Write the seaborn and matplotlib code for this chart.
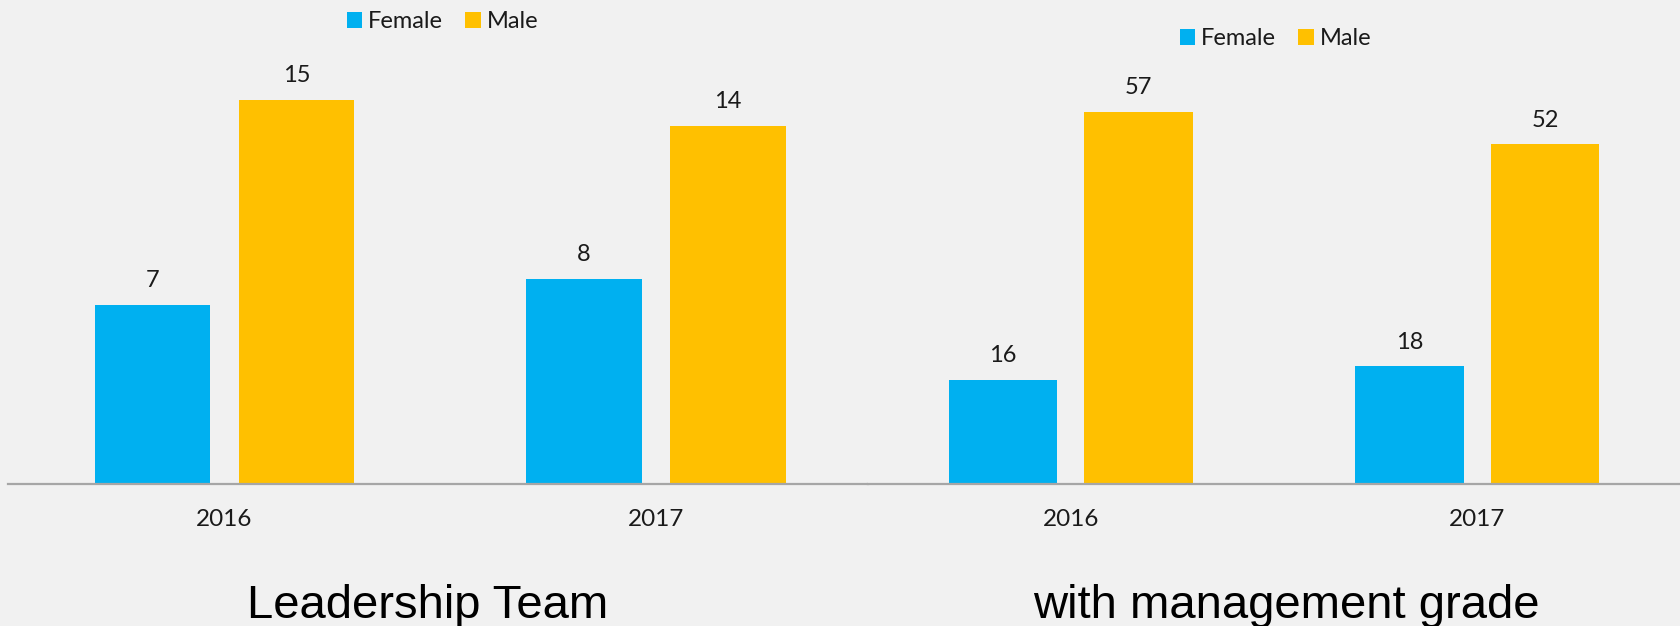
import matplotlib
matplotlib.use("Agg")
import matplotlib.pyplot as plt
import seaborn as sns
import pandas as pd
from matplotlib.patches import Patch

# Data
years = ["2016", "2017"]
genders = ["Female", "Male"]
leadership_female = [7, 8]
leadership_male = [15, 14]
management_female = [16, 18]
management_male = [57, 52]
panel_titles = ["Leadership Team", "with management grade"]

colors = {"Female": "#00B0F0", "Male": "#FFC000"}
bg = "#F1F1F1"

sns.set_theme(style="white")
plt.rcParams["font.family"] = ["Lato", "DejaVu Sans"]

W, H = 1680, 626
fig = plt.figure(figsize=(W / 100, H / 100), dpi=100, facecolor=bg)


def frame(female, male):
    return pd.DataFrame({
        "year": years * 2,
        "gender": ["Female"] * len(years) + ["Male"] * len(years),
        "count": list(female) + list(male),
    })


def px_axes(x0, x1, y_top, y_base):
    return fig.add_axes([x0 / W, 1 - y_base / H, (x1 - x0) / W, (y_base - y_top) / H])


panels = [
    dict(df=frame(leadership_female, leadership_male), x0=8, x1=868,
         xlim=(-0.501, 1.491), ylim=(0, 484 / 25.6),
         legend_xy=(347, 22), title_x=428),
    dict(df=frame(management_female, management_male), x0=868, x1=1680,
         xlim=(-0.499, 1.499), ylim=(0, 484 / 6.53),
         legend_xy=(1180, 38.5), title_x=1286),
]

for p, title in zip(panels, panel_titles):
    ax = px_axes(p["x0"], p["x1"], 0, 484)
    ax.set_facecolor(bg)
    sns.barplot(data=p["df"], x="year", y="count", hue="gender",
                hue_order=genders, palette=colors, width=0.668, gap=0.2,
                saturation=1, linewidth=0, ax=ax, legend=False)
    ax.set_xlim(*p["xlim"])
    ax.set_ylim(*p["ylim"])
    for c in ax.containers:
        ax.bar_label(c, padding=10, fontsize=17, color="#1a1a1a")
    for s in ["top", "right", "left"]:
        ax.spines[s].set_visible(False)
    ax.spines["bottom"].set_color("#A6A6A6")
    ax.spines["bottom"].set_linewidth(1.6)
    ax.set_yticks([])
    ax.set_xlabel("")
    ax.set_ylabel("")
    ax.tick_params(axis="x", length=0, pad=18, labelsize=17.5, labelcolor="#1a1a1a")

    handles = [Patch(facecolor=colors[g], edgecolor="none", label=g) for g in genders]
    lx, ly = p["legend_xy"]
    fig.legend(handles=handles, loc="center left", ncol=2, frameon=False,
               bbox_to_anchor=(lx / W, 1 - ly / H), bbox_transform=fig.transFigure,
               fontsize=17, handlelength=0.64, handleheight=0.64,
               handletextpad=0.25, columnspacing=0.95, borderpad=0, borderaxespad=0,
               labelcolor="#1a1a1a")

    fig.text(p["title_x"] / W, 1 - 606 / H, title, ha="center", va="center",
             fontsize=34, family=["Liberation Sans", "DejaVu Sans"], color="#000000")

fig.savefig("out.png", dpi=100, facecolor=bg)
